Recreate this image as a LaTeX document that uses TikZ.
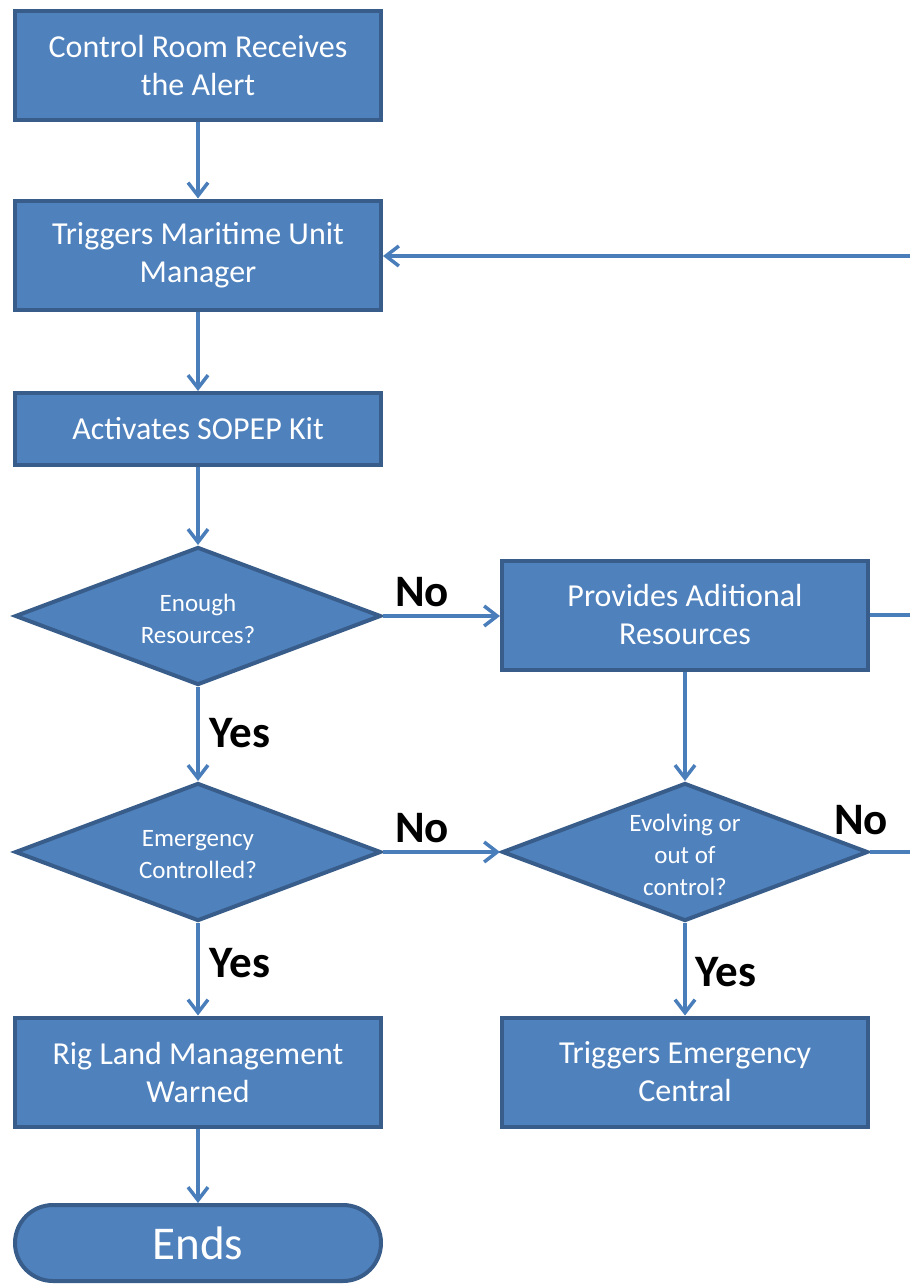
\documentclass[tikz,border=0pt]{standalone}
\usepackage{fontspec}
\setmainfont{Carlito}
\usetikzlibrary{shapes.geometric,arrows.meta}
\definecolor{boxfill}{RGB}{79,129,189}
\definecolor{boxline}{RGB}{56,93,138}
\definecolor{arrowc}{RGB}{74,126,187}
\tikzset{
  procbox/.style={rectangle,draw=boxline,fill=boxfill,line width=4pt,minimum width=366pt,minimum height=109pt,text=white,align=center,font=\fontsize{32}{38}\selectfont,inner sep=0pt},
  decbox/.style={diamond,aspect=2.65,draw=boxline,fill=boxfill,line width=4pt,minimum width=366pt,minimum height=138pt,inner sep=0pt},
  dectext/.style={text=white,align=center,font=\fontsize{25}{32}\selectfont,inner sep=0pt},
  endbox/.style={rectangle,rounded corners=38pt,draw=boxline,fill=boxfill,line width=4pt,minimum width=366pt,minimum height=76pt,text=white,font=\fontsize{47}{50}\selectfont,inner sep=0pt},
  flow/.style={draw=arrowc,line width=4pt,-{Straight Barb[length=13pt,width=20pt,line width=3.5pt]}},
  plain/.style={draw=arrowc,line width=4pt},
  lbl/.style={font=\bfseries\fontsize{45}{45}\selectfont,text=black,inner sep=0pt}
}
\begin{document}
\begin{tikzpicture}[x=1pt,y=-1pt]
\useasboundingbox (0,0) rectangle (910,1284);
\node[procbox] (b1) at (198,65.5) {Control Room Receives\\the Alert};
\node[procbox] (b2) at (198,255) {Triggers Maritime Unit\\Manager};
\node[procbox,minimum height=72pt] (b3) at (198,429) {Activates SOPEP Kit};
\node[decbox] (d1) at (198,616) {};
\node[dectext] (d1t) at (198,619) {Enough\\Resources?};
\node[procbox] (p1) at (685,615) {Provides Aditional\\Resources};
\node[decbox] (d2) at (198,852) {};
\node[dectext] (d2t) at (198,855) {Emergency\\Controlled?};
\node[decbox] (d3) at (685,852) {};
\node[dectext] (d3t) at (685,855) {Evolving or\\out of\\control?};
\node[procbox] (b4) at (198,1072) {Rig Land Management\\Warned};
\node[procbox] (b5) at (685,1072) {Triggers Emergency\\Central};
\node[endbox] (e1) at (198,1243) {Ends};
\coordinate (r1) at (910,256);
\coordinate (r2) at (910,615);
\coordinate (r3) at (910,852);
\draw[flow] (b1.south) -- (b2.north);
\draw[flow] (b2.south) -- (b3.north);
\draw[flow] (b3.south) -- (d1.north);
\draw[flow] (d1.east) -- (d1.east -| p1.west);
\draw[flow] (d1.south) -- (d2.north);
\draw[flow] (p1.south) -- (d3.north);
\draw[flow] (d2.east) -- (d3.west);
\draw[flow] (d2.south) -- (b4.north);
\draw[flow] (d3.south) -- (b5.north);
\draw[flow] (b4.south) -- (e1.north);
\draw[flow] (r1) -- (r1 -| b2.east);
\draw[plain] (p1.east) -- (r2);
\draw[plain] (d3.east) -- (r3);
\node[lbl] (n1) at (422,592) {No};
\node[lbl] (y1) at (240,733) {Yes};
\node[lbl] (n2) at (422,828) {No};
\node[lbl] (y2) at (240,963) {Yes};
\node[lbl] (n3) at (861,820) {No};
\node[lbl] (y3) at (726,972) {Yes};
\end{tikzpicture}
\end{document}
